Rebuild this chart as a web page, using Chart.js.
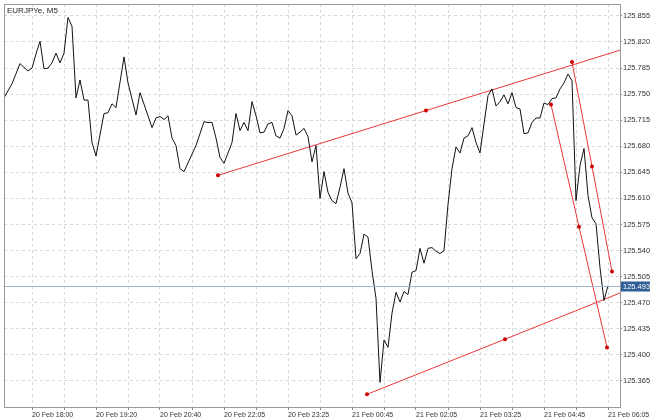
<!DOCTYPE html>
<html>
<head>
<meta charset="utf-8">
<script src="https://cdn.jsdelivr.net/npm/chart.js@4"></script>
<style>
  html, body { margin: 0; padding: 0; background: #fff; }
  #wrap { width: 650px; height: 419px; }
</style>
</head>
<body>
<div id="wrap"><canvas id="chart"></canvas></div>
<script>
const symbol = "EURJPYe, M5";
const lastPrice = 125.493;

// bar index and close price of the traced line
const bars = [0, 2, 4, 6, 7, 8, 9, 10, 11, 12, 13, 14, 15, 16, 17, 18, 19, 20, 21, 22, 23, 25, 26, 27, 28, 30, 31, 33, 34, 36, 37, 38, 39, 40, 41, 42, 43, 44, 45, 48, 50, 51, 52, 53, 54, 55, 57, 58, 59, 60, 61, 62, 63, 64, 65, 66, 67, 68, 69, 70, 71, 72, 73, 74, 75, 76, 77, 78, 79, 80, 81, 82, 83, 84, 85, 86, 87, 88, 89, 90, 91, 92, 93, 94, 95, 96, 97, 98, 99, 100, 101, 102, 103, 104, 105, 106, 107, 108, 109, 110, 111, 112, 113, 114, 115, 116, 117, 118, 119, 120, 121, 122, 123, 124, 125, 126, 127, 128, 129, 130, 131, 132, 133, 134, 135, 136, 137, 138, 139, 140, 141, 142, 143, 144, 145, 146, 147, 148, 149, 150, 151];
const closes = [125.745, 125.764, 125.791, 125.781, 125.785, 125.804, 125.821, 125.784, 125.785, 125.792, 125.805, 125.792, 125.805, 125.853, 125.841, 125.745, 125.769, 125.742, 125.742, 125.685, 125.667, 125.724, 125.725, 125.737, 125.732, 125.800, 125.765, 125.722, 125.752, 125.721, 125.705, 125.718, 125.720, 125.716, 125.721, 125.691, 125.681, 125.650, 125.646, 125.681, 125.713, 125.712, 125.712, 125.691, 125.665, 125.657, 125.685, 125.724, 125.701, 125.712, 125.701, 125.740, 125.721, 125.698, 125.699, 125.710, 125.712, 125.694, 125.691, 125.704, 125.728, 125.721, 125.695, 125.699, 125.704, 125.693, 125.659, 125.681, 125.610, 125.646, 125.618, 125.607, 125.603, 125.625, 125.650, 125.617, 125.604, 125.529, 125.536, 125.562, 125.558, 125.513, 125.476, 125.363, 125.420, 125.410, 125.456, 125.484, 125.471, 125.485, 125.481, 125.511, 125.513, 125.543, 125.523, 125.543, 125.544, 125.539, 125.536, 125.540, 125.602, 125.650, 125.679, 125.671, 125.691, 125.694, 125.705, 125.685, 125.671, 125.710, 125.748, 125.757, 125.734, 125.740, 125.749, 125.737, 125.752, 125.732, 125.730, 125.697, 125.698, 125.712, 125.718, 125.718, 125.738, 125.736, 125.744, 125.745, 125.757, 125.765, 125.777, 125.768, 125.607, 125.654, 125.677, 125.614, 125.584, 125.576, 125.517, 125.473, 125.493];

// drawn trend lines: [bar, price]
const upperChannel = [[53.5, 125.641], [105.5, 125.728], [154, 125.809]];
const lowerChannel = [[90.75, 125.347], [125.25, 125.421], [154, 125.483]];
const steepLine1 = [[142, 125.793], [147, 125.653], [152, 125.512]];
const steepLine2 = [[136.75, 125.736], [143.75, 125.572], [150.75, 125.410]];

const timeTicks = [7, 23, 39, 55, 71, 87, 103, 119, 135, 151];
const timeLabels = ["20 Feb 18:00", "20 Feb 19:20", "20 Feb 20:40", "20 Feb 22:05", "20 Feb 23:25", "21 Feb 00:45", "21 Feb 02:05", "21 Feb 03:25", "21 Feb 04:45", "21 Feb 06:05"];
const priceTicks = [125.365, 125.400, 125.435, 125.470, 125.505, 125.540, 125.575, 125.610, 125.645, 125.680, 125.715, 125.750, 125.785, 125.820, 125.855];

const FAMILY = "Arial, 'Liberation Sans', sans-serif";

function redLine(pts, radii) {
    return {
        data: pts.map(p => ({ x: p[0], y: p[1] })),
        borderColor: "#e8373a",
        borderWidth: 1,
        pointRadius: radii,
        pointBackgroundColor: "#cc0000",
        pointBorderWidth: 0,
        tension: 0
    };
}

const overlay = {
    id: "overlay",
    afterDatasetsDraw(chart) {
        const { ctx, chartArea: a, scales: { y } } = chart;
        const py = Math.round(y.getPixelForValue(lastPrice)) + 0.5;
        ctx.save();
        ctx.strokeStyle = "#9fb6cc";
        ctx.lineWidth = 1;
        ctx.beginPath();
        ctx.moveTo(a.left, py);
        ctx.lineTo(a.right, py);
        ctx.stroke();
        ctx.strokeStyle = "#999";
        ctx.strokeRect(Math.round(a.left) + 0.5, Math.round(a.top) + 0.5,
            Math.round(a.right - a.left), Math.round(a.bottom - a.top));
        ctx.fillStyle = "#2f5f96";
        ctx.fillRect(a.right + 1, py - 5, 29, 10);
        ctx.fillStyle = "#fff";
        ctx.font = "7.5px " + FAMILY;
        ctx.textBaseline = "middle";
        ctx.fillText(lastPrice.toFixed(3), a.right + 3, py + 0.5);
        ctx.fillStyle = "#222";
        ctx.font = "8px " + FAMILY;
        ctx.textBaseline = "top";
        ctx.fillText(symbol, a.left + 3, a.top + 3);
        ctx.restore();
    }
};

new Chart(document.getElementById("chart"), {
    type: "line",
    data: {
        datasets: [
            {
                data: bars.map((b, i) => ({ x: b, y: closes[i] })),
                borderColor: "#111",
                borderWidth: 1,
                pointRadius: 0,
                tension: 0
            },
            redLine(upperChannel, [2, 2, 0]),
            redLine(lowerChannel, [2, 2, 0]),
            redLine(steepLine1, [2, 2, 2]),
            redLine(steepLine2, [2, 2, 2])
        ]
    },
    plugins: [overlay],
    options: {
        responsive: true,
        maintainAspectRatio: false,
        animation: false,
        layout: { padding: { left: 3, top: 3, right: 0, bottom: 0 } },
        plugins: { legend: { display: false }, tooltip: { enabled: false } },
        scales: {
            x: {
                type: "linear",
                min: 0,
                max: 154,
                afterBuildTicks(s) {
                    const t = [];
                    for (let v = 7; v <= 151; v += 8) t.push({ value: v });
                    s.ticks = t;
                },
                afterFit(s) { s.height = 12; s.paddingLeft = 0; s.paddingRight = 0; },
                ticks: {
                    autoSkip: false,
                    maxRotation: 0,
                    align: "start",
                    padding: 1,
                    color: "#333",
                    font: { family: FAMILY, size: 7 },
                    callback: v => {
                        const i = timeTicks.indexOf(v);
                        return i >= 0 ? timeLabels[i] : "";
                    }
                },
                grid: { color: "#d8d8d8", tickLength: 3, tickColor: "#888", drawTicks: true },
                border: { display: true, color: "#888", dash: [3, 3] }
            },
            y: {
                position: "right",
                min: 125.330,
                max: 125.871,
                afterBuildTicks(s) { s.ticks = priceTicks.map(v => ({ value: v })); },
                afterFit(s) { s.width = 30; s.paddingTop = 0; s.paddingBottom = 0; },
                ticks: {
                    padding: 1,
                    color: "#333",
                    font: { family: FAMILY, size: 7.5 },
                    callback: v => v.toFixed(3)
                },
                grid: { color: "#d8d8d8", tickLength: 2, tickColor: "#888" },
                border: { display: true, color: "#888", dash: [3, 3] }
            }
        }
    }
});
</script>
</body>
</html>
